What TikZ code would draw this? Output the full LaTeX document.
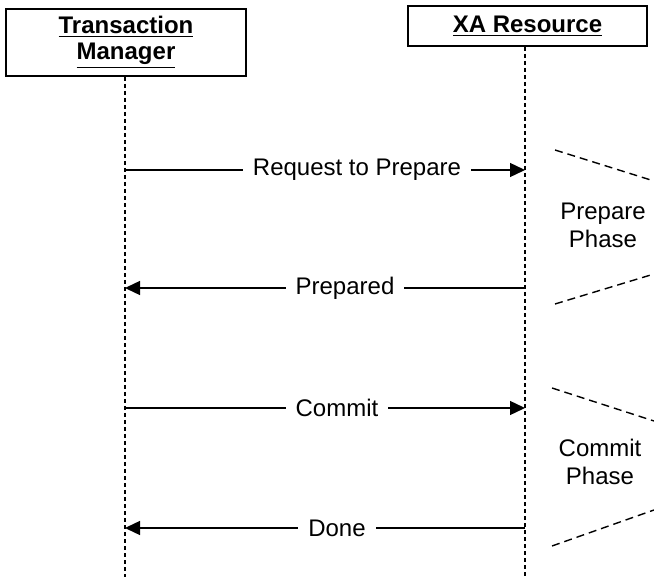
\documentclass[tikz,border=0pt]{standalone}
\usepackage{fontspec}
\setmainfont{Liberation Sans}
\usepackage{tikz}
\usetikzlibrary{arrows.meta,positioning,calc}

\begin{document}
\begin{tikzpicture}[x=0.5pt,y=-0.5pt,
  font=\fontsize{12}{14}\selectfont,
  actor/.style={draw,line width=1pt,minimum height=#1,align=center,
                font=\fontsize{12}{14}\selectfont\bfseries,inner sep=0pt},
  lifeline/.style={line width=0.8pt,dash pattern=on 2pt off 1.5pt},
  msg/.style={line width=0.7pt,-{Triangle[length=7.5pt,width=7pt]}},
  lbl/.style={fill=white,inner xsep=5pt,inner ysep=1pt},
  phase/.style={line width=0.7pt,dash pattern=on 4pt off 2.5pt}]
  \useasboundingbox (0,0) rectangle (654,577);
  % participants
  \node[actor=33.5pt,minimum width=120pt] (tm) at (126,42.5)
    {\underline{Transaction}\\[-1pt]\underline{Manager}};
  \node[actor=20pt,minimum width=119.5pt] (xa) at (527.5,26) {\underline{XA Resource}};
  \coordinate (tmEnd) at (125,577);
  \coordinate (xaEnd) at (525,577);
  \draw[lifeline] (tm.south -| tmEnd) -- (tmEnd);
  \draw[lifeline] (xa.south -| xaEnd) -- (xaEnd);
  % messages
  \coordinate (tmReq) at (125,170);  \coordinate (xaReq) at (525,170);
  \coordinate (tmPre) at (125,288);  \coordinate (xaPre) at (525,288);
  \coordinate (tmCom) at (125,408);  \coordinate (xaCom) at (525,408);
  \coordinate (tmDone) at (125,528); \coordinate (xaDone) at (525,528);
  \draw[msg] (tmReq) -- node[lbl,pos=0.58] (req) {Request to Prepare} (xaReq);
  \draw[msg] (xaPre) -- node[lbl,pos=0.45] (pre) {Prepared} (tmPre);
  \draw[msg] (tmCom) -- node[lbl,pos=0.53] (com) {Commit} (xaCom);
  \draw[msg] (xaDone) -- node[lbl,pos=0.47] (done) {Done} (tmDone);
  % phases
  \node[align=center] (prePhase) at (603,225) {Prepare\\Phase};
  \node[align=center] (comPhase) at (600,462) {Commit\\Phase};
  \draw[phase] (555,150) -- (654,181);
  \draw[phase] (555,304) -- (654,274);
  \draw[phase] (552,388) -- (654,421);
  \draw[phase] (552,546) -- (654,510);
\end{tikzpicture}
\end{document}
